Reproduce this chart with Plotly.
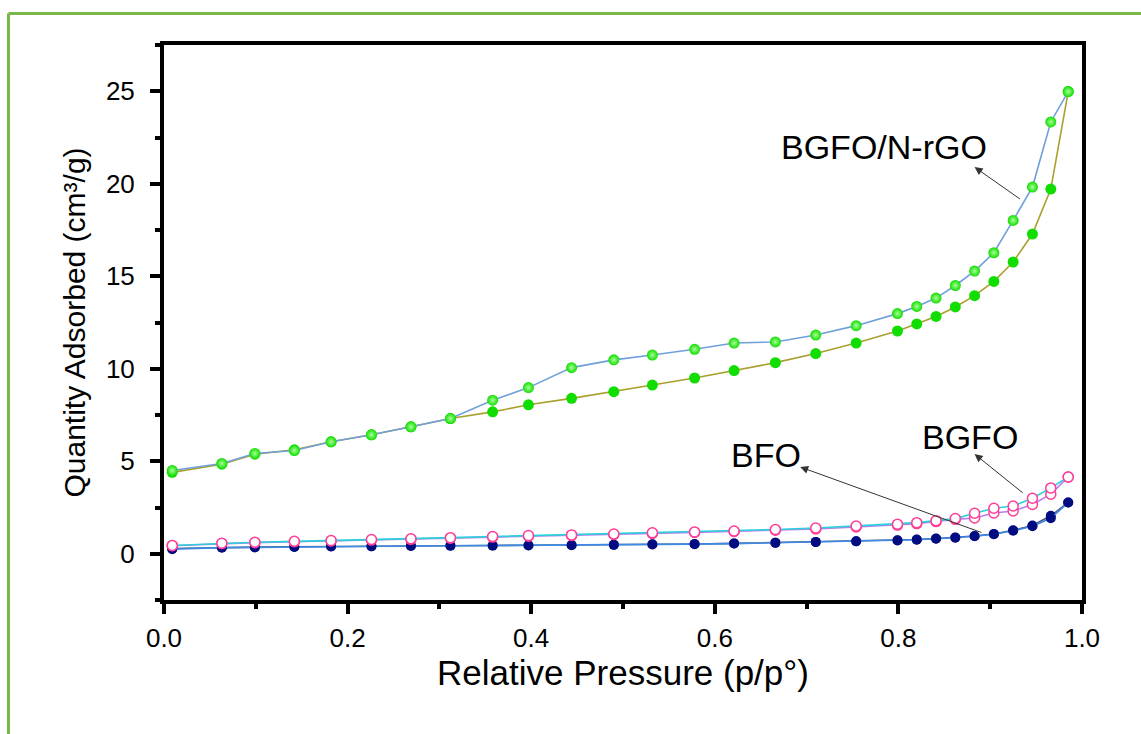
import plotly.graph_objects as go

# Relative pressure (p/p°)
p = [0.009, 0.063, 0.099, 0.142, 0.182, 0.226, 0.269, 0.312, 0.358, 0.397,
     0.444, 0.490, 0.532, 0.578, 0.621, 0.666, 0.710, 0.754, 0.799, 0.820,
     0.841, 0.862, 0.883, 0.904, 0.925, 0.946, 0.966, 0.985]

# BGFO/N-rGO
rgo_ads = [4.40, 4.84, 5.38, 5.62, 6.05, 6.43, 6.86, 7.31, 7.67, 8.05,
           8.40, 8.76, 9.12, 9.50, 9.90, 10.33, 10.82, 11.39, 12.04, 12.42,
           12.83, 13.34, 13.95, 14.72, 15.77, 17.28, 19.71, 24.98]
rgo_des = [4.50, 4.88, 5.42, 5.58, 6.05, 6.43, 6.86, 7.31, 8.30, 8.98,
           10.06, 10.48, 10.74, 11.05, 11.39, 11.45, 11.82, 12.33, 12.98, 13.37,
           13.82, 14.50, 15.28, 16.27, 18.02, 19.82, 23.34, 24.98]

# BGFO
bgfo_ads = [0.43, 0.55, 0.60, 0.65, 0.69, 0.74, 0.78, 0.84, 0.90, 0.95,
            0.99, 1.04, 1.10, 1.15, 1.20, 1.27, 1.34, 1.45, 1.55, 1.63,
            1.74, 1.86, 1.93, 2.20, 2.31, 2.66, 3.22, 4.15]
bgfo_des = [0.45, 0.57, 0.62, 0.67, 0.71, 0.77, 0.81, 0.87, 0.93, 0.98,
            1.02, 1.07, 1.13, 1.18, 1.23, 1.31, 1.39, 1.50, 1.59, 1.68,
            1.79, 1.90, 2.19, 2.46, 2.58, 3.00, 3.56, 4.15]

# BFO
bfo_ads = [0.25, 0.33, 0.34, 0.37, 0.39, 0.40, 0.42, 0.43, 0.44, 0.45,
           0.46, 0.48, 0.50, 0.52, 0.55, 0.59, 0.63, 0.67, 0.72, 0.76,
           0.81, 0.87, 0.95, 1.06, 1.24, 1.49, 1.92, 2.77]
bfo_des = [0.28, 0.35, 0.36, 0.38, 0.40, 0.41, 0.43, 0.44, 0.45, 0.46,
           0.47, 0.49, 0.51, 0.53, 0.56, 0.60, 0.64, 0.68, 0.73, 0.77,
           0.82, 0.88, 0.96, 1.07, 1.27, 1.53, 2.05, 2.77]

x_ticks = [0.0, 0.2, 0.4, 0.6, 0.8, 1.0]
x_tick_text = ["0.0", "0.2", "0.4", "0.6", "0.8", "1.0"]
y_ticks = [0, 5, 10, 15, 20, 25]
y_tick_text = ["0", "5", "10", "15", "20", "25"]

FONT = "Liberation Sans, Arial, sans-serif"

fig = go.Figure()

def add(y, line_color, marker):
    fig.add_trace(go.Scatter(x=p, y=y, mode="lines+markers",
                             line=dict(color=line_color, width=1.6),
                             marker=marker, showlegend=False))

navy = dict(size=10, color="#000c80", line=dict(width=0))
pink = dict(size=10, color="white", line=dict(width=1.5, color="#ff3c96"))
green_plain = dict(size=11, color="#11dd00", line=dict(width=0))
green_shiny = dict(size=11, color="#11dd00", line=dict(width=0),
                   gradient=dict(type="radial", color="#a8ff98"))

add(bfo_des, "#4c5a78", navy)
add(bfo_ads, "#3d8ae6", navy)
add(bgfo_ads, "#b57ff0", pink)
add(bgfo_des, "#2cd0d8", pink)
add(rgo_ads, "#a9a02e", green_plain)
add(rgo_des, "#6fa0dc", green_shiny)

axis_common = dict(
    showgrid=False, zeroline=False, showline=True, linecolor="black",
    linewidth=4, mirror=True, ticks="outside", tickwidth=4, ticklen=10,
    tickcolor="black", tickfont=dict(family=FONT, size=26, color="black"),
)

fig.update_xaxes(range=[0, 1], tickvals=x_ticks, ticktext=x_tick_text,
                 minor=dict(ticks="outside", dtick=0.1, ticklen=5,
                            tickwidth=4, tickcolor="black"),
                 ticklabelstandoff=2,
                 title=dict(text="Relative Pressure (p/p°)",
                            font=dict(family=FONT, size=35, color="black"),
                            standoff=8),
                 **axis_common)
fig.update_yaxes(range=[-2.5, 27.5], tickvals=y_ticks, ticktext=y_tick_text,
                 minor=dict(ticks="outside", dtick=2.5, ticklen=5,
                            tickwidth=4, tickcolor="black"),
                 ticklabelstandoff=10,
                 title=dict(text="Quantity Adsorbed (cm³/g)",
                            font=dict(family=FONT, size=30, color="black"),
                            standoff=12),
                 **axis_common)

ann_font = dict(family=FONT, size=34, color="black")
texts = [
    ("BGFO/N-rGO", 0.784, 21.99),
    ("BFO", 0.656, 5.34),
    ("BGFO", 0.878, 6.31),
]
for t, xx, yy in texts:
    fig.add_annotation(x=xx, y=yy, text=t, showarrow=False, font=ann_font,
                       xanchor="center", yanchor="middle")

arrows = [
    (0.883, 20.9, 0.934, 19.12),
    (0.693, 4.69, 0.892, 1.12),
    (0.883, 5.39, 0.937, 3.23),
]
for hx, hy, tx, ty in arrows:
    fig.add_annotation(x=hx, y=hy, ax=tx, ay=ty, axref="x", ayref="y",
                       text="", showarrow=True, arrowhead=2, arrowsize=1.6,
                       arrowwidth=1, arrowcolor="#333333")

# green frame (top and left edges visible)
fig.add_shape(type="line", xref="paper", yref="paper",
              x0=(8.5 - 164) / 918, x1=(1150 - 164) / 918,
              y0=(600 - 13.5) / 555, y1=(600 - 13.5) / 555,
              line=dict(color="#79b64b", width=3))
fig.add_shape(type="line", xref="paper", yref="paper",
              x0=(8.5 - 164) / 918, x1=(8.5 - 164) / 918,
              y0=(600 - 13.5) / 555, y1=(600 - 740) / 555,
              line=dict(color="#79b64b", width=3))

fig.update_layout(
    width=1141, height=734,
    margin=dict(l=164, r=59, t=45, b=134),
    paper_bgcolor="white", plot_bgcolor="white",
    font=dict(family=FONT, color="black"),
)

fig.write_html("out.html")
